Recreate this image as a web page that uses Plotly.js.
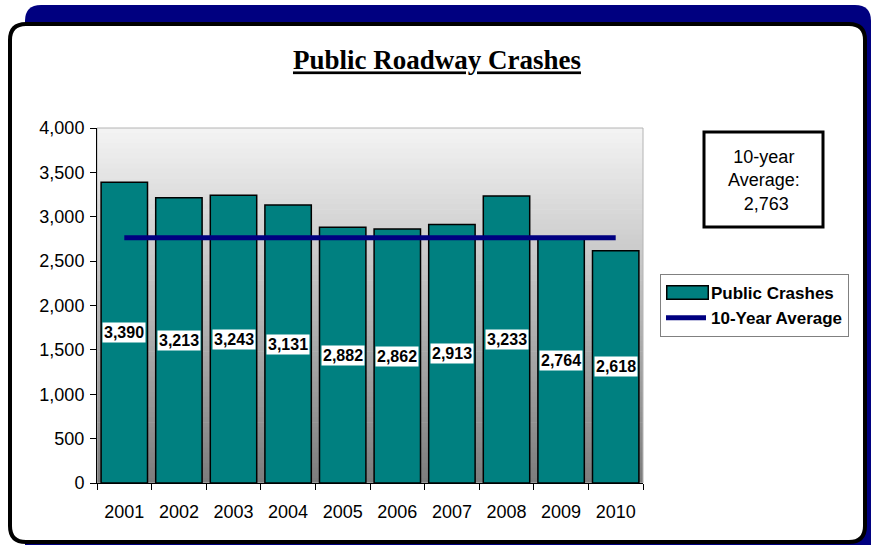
<!DOCTYPE html>
<html>
<head>
<meta charset="utf-8">
<script src="https://cdn.plot.ly/plotly-3.0.1.min.js"></script>
<style>
  html, body { margin: 0; padding: 0; background: #ffffff; }
  #chart { width: 872px; height: 545px; }
</style>
</head>
<body>
<div id="chart"></div>
<script>
// ---- data ----
const years = ['2001', '2002', '2003', '2004', '2005', '2006', '2007', '2008', '2009', '2010'];
const publicCrashes = [3390, 3213, 3243, 3131, 2882, 2862, 2913, 3233, 2764, 2618];
const averageValue = 2763;
const averageLine = [2763, 2763, 2763, 2763, 2763, 2763, 2763, 2763, 2763, 2763];
const yTickValues = [0, 500, 1000, 1500, 2000, 2500, 3000, 3500, 4000];
const chartTitle = 'Public Roadway Crashes';
const barSeriesName = 'Public Crashes';
const lineSeriesName = '10-Year Average';

// ---- geometry helpers (pixel -> paper) ----
const W = 872, H = 545;
const PL = 97, PR = 643, PT = 128, PB = 483;
const px = X => (X - PL) / (PR - PL);
const py = Y => (PB - Y) / (PB - PT);
function roundRect(x0, y0, x1, y1, r) {
  const f = (a, b) => px(a).toFixed(5) + ',' + py(b).toFixed(5);
  return 'M ' + f(x0 + r, y0) + ' L ' + f(x1 - r, y0) + ' Q ' + f(x1, y0) + ' ' + f(x1, y0 + r) +
    ' L ' + f(x1, y1 - r) + ' Q ' + f(x1, y1) + ' ' + f(x1 - r, y1) +
    ' L ' + f(x0 + r, y1) + ' Q ' + f(x0, y1) + ' ' + f(x0, y1 - r) +
    ' L ' + f(x0, y0 + r) + ' Q ' + f(x0, y0) + ' ' + f(x0 + r, y0) + ' Z';
}

const FONT = 'Liberation Sans, Arial, sans-serif';
const TEAL = '#008080';

const shapes = [];
// navy banner
shapes.push({type: 'path', xref: 'paper', yref: 'paper', layer: 'below',
  path: roundRect(25, 5, 871, 560, 16), fillcolor: '#000080', line: {width: 0}});
// white frame with black border
shapes.push({type: 'path', xref: 'paper', yref: 'paper', layer: 'below',
  path: roundRect(10, 24, 865, 542, 16), fillcolor: '#ffffff', line: {color: '#000000', width: 4}});
// plot area gradient (light top -> grey bottom)
const N = 70;
const gradTop = [244, 244, 244], gradBot = [124, 124, 124];
for (let i = 0; i < N; i++) {
  const t = (i + 0.5) / N;
  const c = gradTop.map((v, k) => Math.round(v + (gradBot[k] - v) * t));
  shapes.push({type: 'rect', xref: 'paper', yref: 'paper', layer: 'below',
    x0: 0, x1: 1, y0: Math.max(0, 1 - (i + 1) / N - 0.002), y1: 1 - i / N,
    fillcolor: 'rgb(' + c.join(',') + ')', line: {width: 0}});
}
// plot area border (light grey)
shapes.push({type: 'rect', xref: 'paper', yref: 'paper', layer: 'below',
  x0: 0, x1: 1, y0: 0, y1: 1, fillcolor: 'rgba(0,0,0,0)', line: {color: '#b4b4b4', width: 1}});
// average text box
shapes.push({type: 'rect', xref: 'paper', yref: 'paper', layer: 'above',
  x0: px(704), x1: px(823), y0: py(227), y1: py(132), fillcolor: '#ffffff',
  line: {color: '#000000', width: 3}});

const fmt = v => v.toLocaleString('en-US');

// value labels centred in each bar (category index positions)
const annotations = years.map((yr, i) => ({
  x: i, y: publicCrashes[i] / 2, xref: 'x', yref: 'y',
  text: fmt(publicCrashes[i]), showarrow: false,
  bgcolor: '#ffffff', borderpad: 1,
  font: {family: FONT, size: 16, color: '#000000', weight: 'bold'}
}));
annotations.push({
  xref: 'paper', yref: 'paper', x: px(763.5), y: py(180), xanchor: 'center', yanchor: 'middle',
  text: '10-year<br>Average:<br> ' + fmt(averageValue), showarrow: false, align: 'center',
  font: {family: FONT, size: 18, color: '#000000'}
});
// wide legend swatch for the bar series (Excel style)
annotations.push({
  xref: 'paper', yref: 'paper', x: px(687), y: py(292.5), xanchor: 'center', yanchor: 'middle',
  text: ' ', showarrow: false, width: 40, height: 12, borderpad: 0,
  bgcolor: TEAL, bordercolor: '#000000', borderwidth: 1.5,
  font: {family: FONT, size: 8, color: TEAL}
});

const traces = [
  {
    type: 'bar', x: years, y: publicCrashes, name: barSeriesName,
    marker: {color: TEAL, line: {color: '#000000', width: 1.5}},
    hoverinfo: 'skip'
  },
  {
    type: 'scatter', mode: 'lines', x: years, y: averageLine, name: lineSeriesName,
    line: {color: '#000080', width: 5}, hoverinfo: 'skip'
  }
];

const layout = {
  width: W, height: H,
  margin: {l: PL, r: W - PR, t: PT, b: H - PB, pad: 0},
  paper_bgcolor: '#ffffff',
  plot_bgcolor: 'rgba(0,0,0,0)',
  title: {
    text: chartTitle, xref: 'container', yref: 'container',
    x: 437 / W, y: 1 - 60 / H, xanchor: 'center', yanchor: 'middle',
    font: {family: 'Liberation Serif, Times New Roman, serif', size: 27, color: '#000000',
      weight: 'bold', lineposition: 'under'}
  },
  bargap: 0.15,
  showlegend: true,
  legend: {
    x: px(660), y: py(274), xanchor: 'left', yanchor: 'top',
    bgcolor: '#ffffff', bordercolor: '#808080', borderwidth: 1,
    font: {family: FONT, size: 17, color: '#000000', weight: 'bold'},
    itemwidth: 40, tracegroupgap: 0, traceorder: 'normal'
  },
  xaxis: {
    type: 'category', categoryorder: 'array', categoryarray: years,
    showgrid: false, zeroline: false,
    showline: true, linecolor: '#000000', linewidth: 1,
    ticks: 'outside', tickson: 'boundaries', ticklen: 6, tickcolor: '#000000',
    tickangle: 0, ticklabelstandoff: 12,
    tickfont: {family: FONT, size: 18, color: '#000000'}
  },
  yaxis: {
    range: [0, 4000], tickvals: yTickValues, ticktext: yTickValues.map(fmt),
    showgrid: false, zeroline: false,
    showline: true, linecolor: '#000000', linewidth: 1,
    ticks: 'outside', ticklen: 6, tickcolor: '#000000', ticklabelstandoff: 2,
    tickfont: {family: FONT, size: 18, color: '#000000'}
  },
  shapes: shapes,
  annotations: annotations
};

Plotly.newPlot('chart', traces, layout, {staticPlot: true, displayModeBar: false});
</script>
</body>
</html>
